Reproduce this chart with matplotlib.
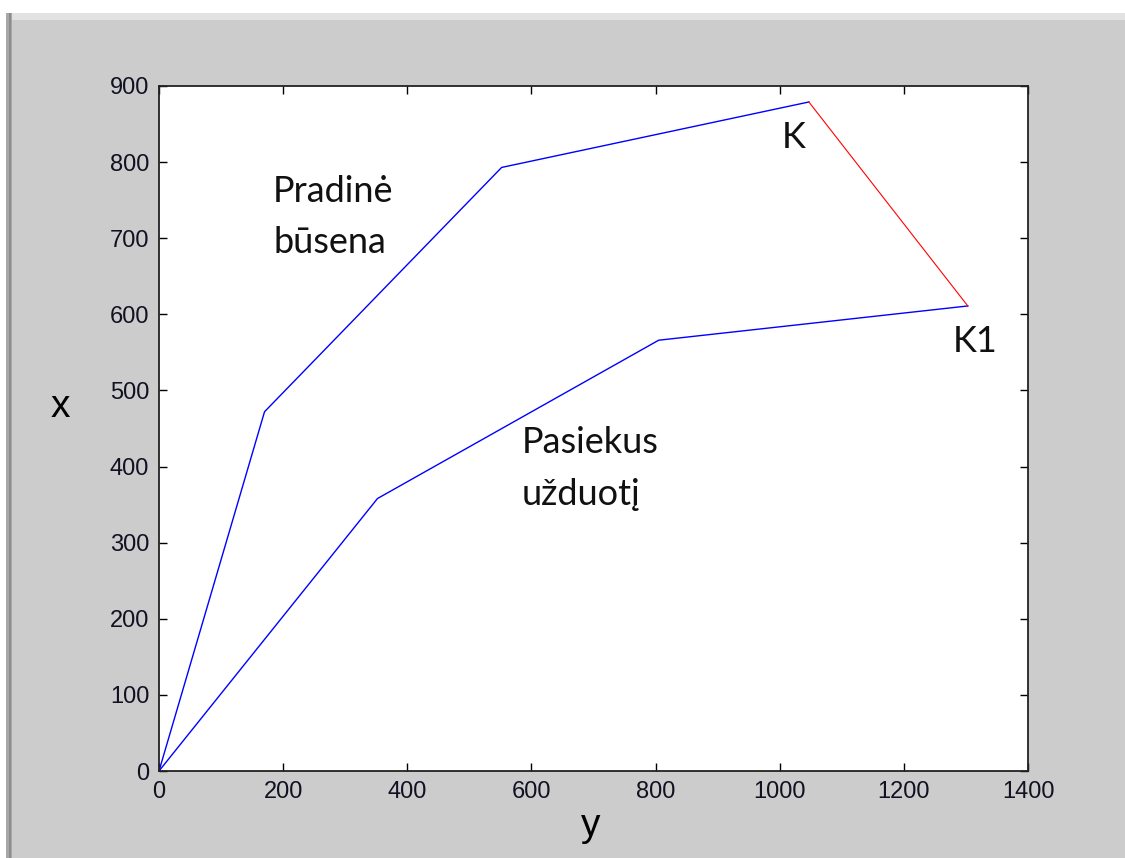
import matplotlib
matplotlib.use("Agg")
import matplotlib.pyplot as plt
from matplotlib.patches import Rectangle

# data (horizontal axis = "y", vertical axis = "x")
start_y = [0, 170, 552, 1047]
start_x = [0, 472, 793, 879]
goal_y = [0, 352, 805, 1303]
goal_x = [0, 358, 566, 611]
move_y = [1047, 1303]
move_x = [879, 611]

xticks = [0, 200, 400, 600, 800, 1000, 1200, 1400]
yticks = [0, 100, 200, 300, 400, 500, 600, 700, 800, 900]

fig = plt.figure(figsize=(11.25, 8.58), dpi=100)
fig.patch.set_facecolor("white")

# window frame around the figure area
W, H = 1125, 858
fig.patches.append(Rectangle((12 / W, 0), 1, (H - 20) / H, transform=fig.transFigure,
                             facecolor="#cccccc", edgecolor="none", zorder=-10))
fig.patches.append(Rectangle((12 / W, (H - 20) / H), 1, 7 / H, transform=fig.transFigure,
                             facecolor="#e2e2e2", edgecolor="none", zorder=-10))
fig.patches.append(Rectangle((6 / W, 0), 6 / W, (H - 13) / H, transform=fig.transFigure,
                             facecolor="#a8a8a8", edgecolor="none", zorder=-9))
fig.patches.append(Rectangle((9 / W, 0), 2 / W, (H - 13) / H, transform=fig.transFigure,
                             facecolor="#8c8c8c", edgecolor="none", zorder=-8))

ax = fig.add_axes([159 / W, 87 / H, (1028 - 159) / W, (771 - 86) / H])
ax.set_facecolor("white")

ax.plot(start_y, start_x, color="#0000ff", lw=1.0)
ax.plot(goal_y, goal_x, color="#0000ff", lw=1.0)
ax.plot(move_y, move_x, color="#ff0000", lw=0.8)

ax.set_xlim(0, 1400)
ax.set_ylim(0, 900)
ax.set_xticks(xticks)
ax.set_yticks(yticks)
ax.tick_params(direction="in", length=6, width=1, top=True, right=True,
               labelsize=17, labelcolor="#111122", pad=7)
for lab in ax.get_xticklabels() + ax.get_yticklabels():
    lab.set_family("Liberation Sans")
for sp in ax.spines.values():
    sp.set_linewidth(1.3)
    sp.set_color("#222222")

# axis names (placed like in the MATLAB window)
fig.text(60 / W, 1 - 407 / H, "x", fontsize=28, family="Liberation Sans",
         ha="center", va="center")
fig.text(591 / W, 1 - 826 / H, "y", fontsize=28, family="Liberation Sans",
         ha="center", va="center")

lbl = dict(fontsize=26, family="Lato", color="#111111", va="baseline")
ax.text(184, 748, "Pradinė", ha="left", **lbl)
ax.text(184, 681, "būsena", ha="left", **lbl)
ax.text(585, 418, "Pasiekus", ha="left", **lbl)
ax.text(585, 350, "užduotį", ha="left", **lbl)
ax.text(1023, 819, "K", ha="center", **lbl)
ax.text(1315, 551, "K1", ha="center", **lbl)

fig.savefig("out.png", dpi=100)
